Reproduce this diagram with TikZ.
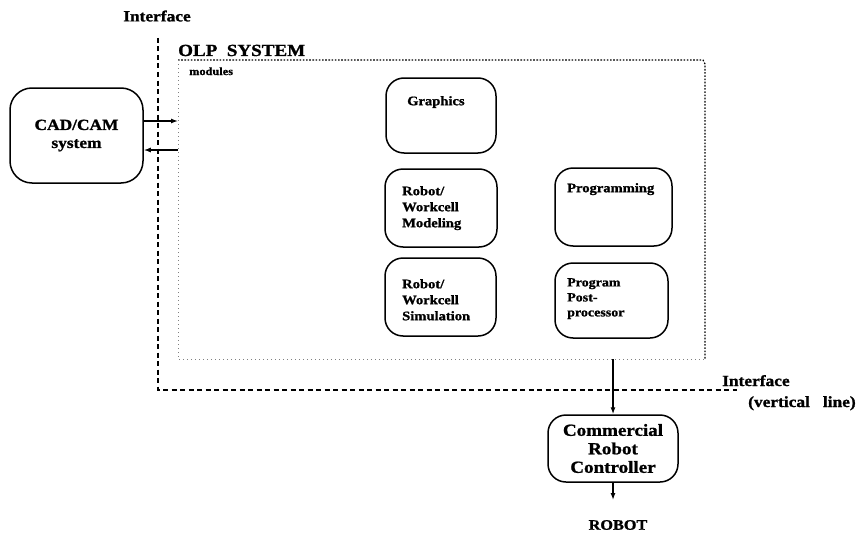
\documentclass[tikz,border=0pt]{standalone}
\usepackage{fontspec}
\setmainfont{Liberation Serif}
\newfontfamily\lbl[FakeStretch=1.12, BoldFeatures={FakeBold=1.2}]{Liberation Serif}
\usetikzlibrary{arrows.meta}
\begin{document}
\begin{tikzpicture}[x=1pt,y=-1pt,
  box/.style={draw, line width=1.5pt, rounded corners=18pt, inner sep=0pt},
  txt/.style={font=\lbl\bfseries\fontsize{13}{16}\selectfont, align=left, inner sep=0pt, anchor=north west},
  big/.style={font=\lbl\bfseries\fontsize{15.5}{20}\selectfont, align=center},
  arr/.style={-{Latex[length=7pt,width=5pt]}, line width=1.3pt},
  iface/.style={line width=1.6pt, dash pattern=on 5pt off 3.5pt}]
\useasboundingbox (0,0) rectangle (867,535);

% interface line
\coordinate (ia) at (158,38);
\coordinate (ib) at (158,390);
\coordinate (ic) at (737,390);
\draw[iface] (ia) -- (ib) -- (ic);

% OLP system box
\coordinate (o1) at (178,60);
\coordinate (o2) at (703,60);
\coordinate (o3) at (705,64);
\coordinate (o4) at (705,359);
\coordinate (o5) at (178,359);
\draw[line width=1.2pt, dash pattern=on 1.6pt off 1.6pt] (o1) -- (o2) -- (o3) -- (o4);
\draw[line width=0.6pt, gray, dash pattern=on 1pt off 3pt] (o1) -- (o5) -- (o4);

% labels
\node[font=\lbl\bfseries\fontsize{15.5}{18}\selectfont] (lint) at (157,16) {Interface};
\node[font=\lbl\bfseries\fontsize{17}{20}\selectfont, anchor=base west, inner sep=0pt] (lolp) at (178,56) {OLP\ \ SYSTEM};
\node[font=\lbl\bfseries\fontsize{11}{12}\selectfont, anchor=base west, inner sep=0pt] (lmod) at (189,75) {modules};
\node[font=\lbl\bfseries\fontsize{15.5}{18}\selectfont, anchor=base west, inner sep=0pt] (lint2) at (722,386) {Interface};
\node[font=\lbl\bfseries\fontsize{15.5}{18}\selectfont, anchor=base west, inner sep=0pt] (lvert) at (748,407) {(vertical\ \ \ line)};

% CAD/CAM
\node[box, rounded corners=22pt, big, minimum width=133pt, minimum height=95pt] (cad) at (76.5,135.5) {CAD/CAM\\[-2pt]system};

% modules
\node[box, minimum width=110pt, minimum height=75pt] (gra) at (441,115.5) {};
\node[txt] (tgra) at (407,96) {Graphics};
\node[box, minimum width=112pt, minimum height=78pt] (mod) at (441,208) {};
\node[txt] (tmod) at (402,186) {Robot/\\Workcell\\Modeling};
\node[box, minimum width=117pt, minimum height=78pt] (prg) at (613.5,207) {};
\node[txt] (tprg) at (567,183) {Programming};
\node[box, minimum width=111pt, minimum height=78pt] (sim) at (440.5,297) {};
\node[txt] (tsim) at (402,279) {Robot/\\Workcell\\Simulation};
\node[box, minimum width=113pt, minimum height=75pt] (post) at (611.5,300.5) {};
\node[txt, font=\lbl\bfseries\fontsize{12.5}{15}\selectfont] (tpost) at (567,278) {Program\\Post-\\processor};

% controller
\node[box, big, font=\lbl\bfseries\fontsize{17}{18.5}\selectfont, minimum width=130pt, minimum height=67pt] (ctrl) at (613,448.5) {Commercial\\Robot\\Controller};
\node[font=\lbl\bfseries\fontsize{14.5}{16}\selectfont] (robot) at (618,525) {ROBOT};

% connectors
\coordinate (in1) at (178,121);
\coordinate (in2) at (178,150);
\draw[arr] (cad.east |- in1) -- (in1);
\draw[arr] (in2) -- (cad.east |- in2);
\coordinate (olpout) at (613,359);
\draw[arr] (olpout) -- (ctrl.north);
\coordinate (rob) at (613,500);
\draw[arr] (ctrl.south) -- (rob);
\end{tikzpicture}
\end{document}
